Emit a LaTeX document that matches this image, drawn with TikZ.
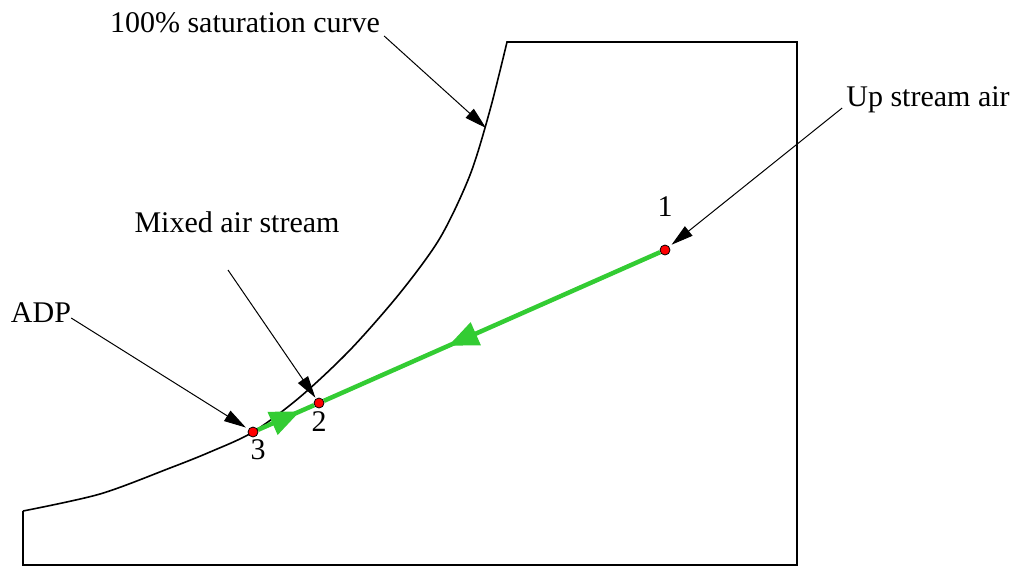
\documentclass[tikz,border=0pt]{standalone}
\usepackage{fontspec}
\setmainfont{Liberation Serif}
\usetikzlibrary{arrows.meta, decorations.markings}
\definecolor{flowgreen}{RGB}{51,204,51}
\tikzset{
  dot/.style  = {draw, circle, fill=red, minimum size=10pt, inner sep=0pt, line width=0.8pt},
  lbl/.style  = {inner sep=0pt, anchor=base, font=\fontsize{30}{34}\selectfont},
  num/.style  = {inner sep=0pt, font=\fontsize{30}{34}\selectfont},
  call/.style = {-{Triangle[length=22pt, width=12pt]}, line width=1pt},
  flow/.style = {color=flowgreen, line width=4.5pt, postaction={decorate},
                 decoration={markings, mark=at position #1 with
                   {\arrow{Triangle[length=30pt, width=24pt]}}}},
  outline/.style = {line width=1.6pt},
}

\begin{document}
\begin{tikzpicture}[x=1pt, y=-1pt]
  \useasboundingbox (0,0) rectangle (1019,568);

  % ---- chart outline with the saturation curve ----
  \draw[outline] (23,511) -- (23,565) -- (797,565) -- (797,42) -- (507,42)
    -- plot[smooth] coordinates {(507,42) (490,110) (470,175) (440,238)
       (400,293) (350,350) (300,397) (253,432) (210,452) (170,468) (100,494) (23,511)};
  \coordinate (satpt) at (486,128);
  \coordinate (mixtail) at (228,270);

  % ---- state points ----
  \node[dot] (p1) at (665,250) {};
  \node[dot] (p2) at (319,403) {};
  \node[dot] (p3) at (253,432) {};
  \node[num] (n1) at (665,207) {1};
  \node[num] (n2) at (319,422) {2};
  \node[num] (n3) at (258,450) {3};

  % ---- process lines ----
  \draw[flow=0.63] (p1) -- (p2);
  \draw[flow=0.75] (p3) -- (p2);

  % ---- labels ----
  \node[lbl] (sat) at (245,32) {100\% saturation curve};
  \node[lbl] (up)  at (928,106) {Up stream air};
  \node[lbl] (mix) at (237,232) {Mixed air stream};
  \node[lbl] (adp) at (41,322) {ADP};

  \draw[call] ([shift={(4pt,-4pt)}]sat.base east) -- (satpt);
  \draw[call, shorten >=3pt] ([shift={(-4pt,-2pt)}]up.base west) -- (p1);
  \draw[call, shorten >=1pt] (mixtail) -- (p2);
  \draw[call, shorten >=3pt] ([yshift=4pt]adp.base east) -- (p3);
\end{tikzpicture}
\end{document}
